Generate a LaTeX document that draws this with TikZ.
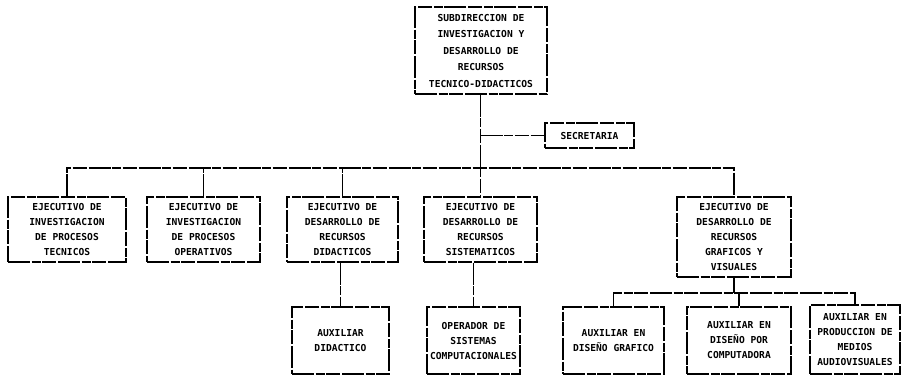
\documentclass[tikz,border=0pt]{standalone}
\usepackage{fontspec}
\newfontfamily\twfont{DejaVu Sans Mono}
\tikzset{
  x=1pt, y=-1pt,
  orgline/.style={line width=1.1pt, dash pattern=on 22pt off 1.5pt on 9pt off 1.5pt on 14pt off 2pt},
  orgbox/.style={draw, orgline, rectangle, inner sep=0pt, align=center,
    font={\twfont\bfseries\fontsize{9.6}{15}\selectfont}},
}
\begin{document}
\begin{tikzpicture}
\useasboundingbox[fill=white] (0,0) rectangle (904,376);

\node[orgbox, minimum width=132pt, minimum height=87pt,
  font={\twfont\bfseries\fontsize{9.6}{16.5}\selectfont}] (top) at (481,50.5)
  {SUBDIRECCION DE\\INVESTIGACION Y\\DESARROLLO DE\\RECURSOS\\TECNICO-DIDACTICOS};
\node[orgbox, minimum width=89pt, minimum height=25pt] (sec) at (589.5,135.5) {SECRETARIA};

\node[orgbox, minimum width=118pt, minimum height=65pt] (b1) at (67,229.5)
  {EJECUTIVO DE\\INVESTIGACION\\DE PROCESOS\\TECNICOS};
\node[orgbox, minimum width=113pt, minimum height=65pt] (b2) at (203.5,229.5)
  {EJECUTIVO DE\\INVESTIGACION\\DE PROCESOS\\OPERATIVOS};
\node[orgbox, minimum width=111pt, minimum height=65pt] (b3) at (342.5,229.5)
  {EJECUTIVO DE\\DESARROLLO DE\\RECURSOS\\DIDACTICOS};
\node[orgbox, minimum width=113pt, minimum height=65pt] (b4) at (480.5,229.5)
  {EJECUTIVO DE\\DESARROLLO DE\\RECURSOS\\SISTEMATICOS};
\node[orgbox, minimum width=114pt, minimum height=80pt] (b5) at (734,237)
  {EJECUTIVO DE\\DESARROLLO DE\\RECURSOS\\GRAFICOS Y\\VISUALES};

\node[orgbox, minimum width=97pt, minimum height=67pt] (aux) at (340.5,340.5)
  {AUXILIAR\\DIDACTICO};
\node[orgbox, minimum width=93pt, minimum height=67pt] (op) at (473.5,340.5)
  {OPERADOR DE\\SISTEMAS\\COMPUTACIONALES};
\node[orgbox, minimum width=101pt, minimum height=67pt] (ca) at (613.5,340.5)
  {AUXILIAR EN\\DISEÑO GRAFICO};
\node[orgbox, minimum width=104pt, minimum height=67pt] (cb) at (739,340.5)
  {AUXILIAR EN\\DISEÑO POR\\COMPUTADORA};
\node[orgbox, minimum width=90pt, minimum height=69pt] (cc) at (855,339.5)
  {AUXILIAR EN\\PRODUCCION DE\\MEDIOS\\AUDIOVISUALES};

\coordinate (bus) at (0,168);
\coordinate (subbus) at (0,293);
\coordinate (trunktop) at (top.south -| b4.north);
\coordinate (secjoin) at (trunktop |- sec.west);

% trunk
\draw[orgline] (trunktop) -- (b4.north);
\draw[orgline] (secjoin) -- (sec.west);
% main bus
\draw[orgline] (b1.north) -- (b1.north |- bus) -| (b5.north);
\draw[orgline] (b2.north) -- (b2.north |- bus);
\draw[orgline] (b3.north) -- (b3.north |- bus);
% second level
\draw[orgline] (aux.north |- b3.south) -- (aux.north);
\draw[orgline] (op.north |- b4.south) -- (op.north);
\draw[orgline] (b5.south) -- (b5.south |- subbus);
\draw[orgline] (ca.north) -- (ca.north |- subbus) -| (cc.north);
\draw[orgline] (cb.north) -- (cb.north |- subbus);
\end{tikzpicture}
\end{document}
